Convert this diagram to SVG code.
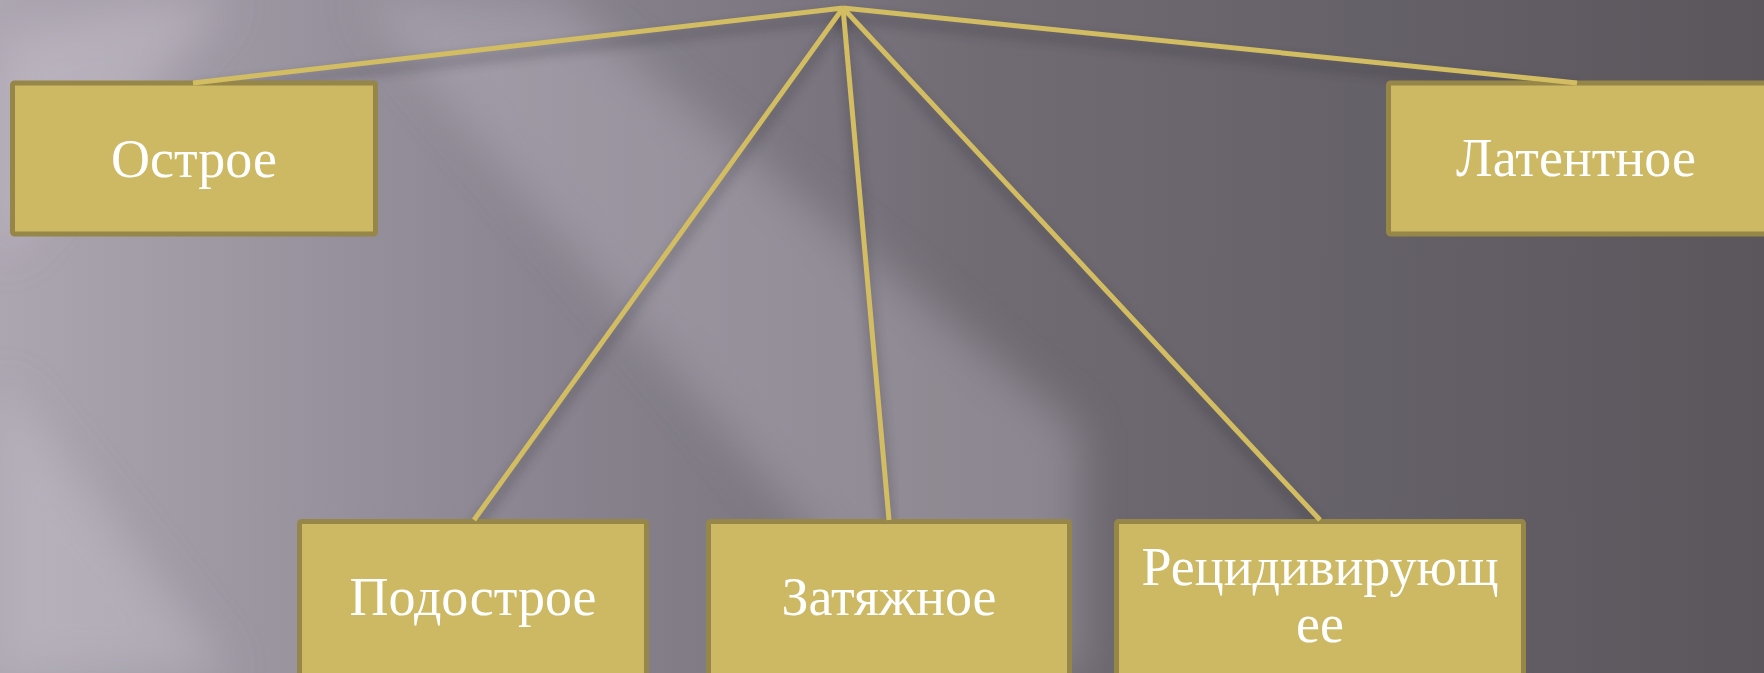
<svg xmlns="http://www.w3.org/2000/svg" width="1764" height="673" viewBox="0 0 1764 673">
<defs>
<linearGradient id="bg" x1="0" y1="0" x2="1" y2="0">
<stop offset="0" stop-color="#aca6b1"/>
<stop offset="0.3" stop-color="#8a8590"/>
<stop offset="0.55" stop-color="#716c74"/>
<stop offset="1" stop-color="#5a565c"/>
</linearGradient>
<filter id="blur" x="-20%" y="-20%" width="140%" height="140%"><feGaussianBlur stdDeviation="22"/></filter>
<filter id="sh" x="-20%" y="-20%" width="140%" height="140%"><feGaussianBlur stdDeviation="6"/></filter>
<style>
.box{fill:#cdb964;stroke:#968647;stroke-width:5}
.lbl{font-family:"Liberation Serif","DejaVu Serif",serif;font-size:54px;fill:#ffffff;text-anchor:middle}
.ln{stroke:#d3bd62;stroke-width:5;stroke-linecap:butt;fill:none}
.lsh{stroke:#2a2630;stroke-width:8;opacity:0.3;fill:none;filter:url(#sh)}
</style>
</defs>
<rect width="1764" height="673" fill="url(#bg)"/>
<g filter="url(#blur)">
<polygon points="360,0 560,0 1080,430 1080,673 930,673 640,330" fill="#c4bec8" opacity="0.35"/>
<polygon points="0,40 140,0 230,0 0,260" fill="#cfc9d4" opacity="0.4"/>
<polygon points="0,380 230,673 0,673" fill="#c8c2cc" opacity="0.4"/>
</g>
<g id="connectors">
<g transform="translate(0,8)">
<line class="lsh" x1="843" y1="8" x2="193" y2="83"/>
<line class="lsh" x1="843" y1="8" x2="1577" y2="83"/>
<line class="lsh" x1="843" y1="8" x2="474" y2="520"/>
<line class="lsh" x1="843" y1="8" x2="889" y2="520"/>
<line class="lsh" x1="843" y1="8" x2="1320" y2="520"/>
</g>
</g>
<g id="n-ostroe">
<rect class="box" x="12.5" y="83" width="363" height="151" rx="2"/>
<text class="lbl" x="194" y="177">Острое</text>
</g>
<g id="n-latentnoe">
<rect class="box" x="1388.5" y="83" width="380" height="151" rx="2"/>
<text class="lbl" x="1576" y="176">Латентное</text>
</g>
<g id="n-podostroe">
<rect class="box" x="299.5" y="521.5" width="347" height="160" rx="2"/>
<text class="lbl" x="473" y="615">Подострое</text>
</g>
<g id="n-zatyazhnoe">
<rect class="box" x="708.5" y="521.5" width="361" height="160" rx="2"/>
<text class="lbl" x="889" y="615">Затяжное</text>
</g>
<g id="n-recidiv">
<rect class="box" x="1116.5" y="521.5" width="407" height="160" rx="2"/>
<text class="lbl" x="1320" y="585">Рецидивирующ</text>
<text class="lbl" x="1320" y="642">ее</text>
</g>
<g id="connectors-lines">
<line class="ln" x1="843" y1="8" x2="193" y2="83"/>
<line class="ln" x1="843" y1="8" x2="1577" y2="83"/>
<line class="ln" x1="843" y1="8" x2="474" y2="520"/>
<line class="ln" x1="843" y1="8" x2="889" y2="520"/>
<line class="ln" x1="843" y1="8" x2="1320" y2="520"/>
</g>
</svg>
